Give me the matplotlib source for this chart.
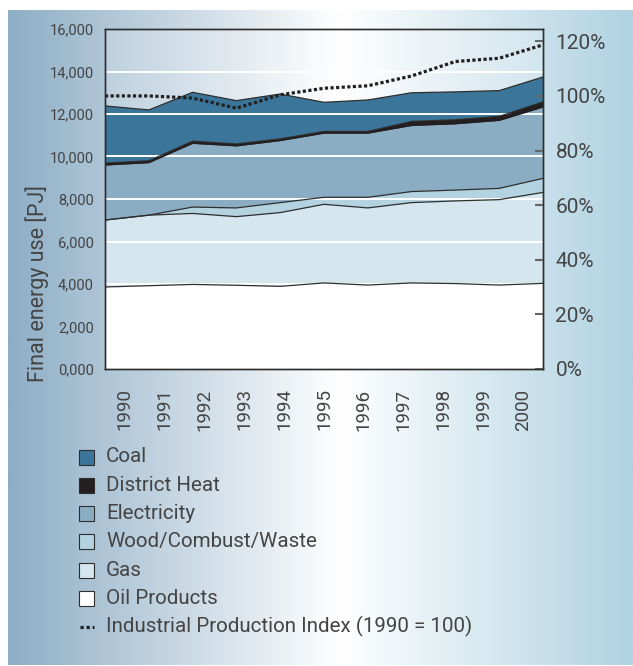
import numpy as np
import matplotlib
matplotlib.use("Agg")
import matplotlib.pyplot as plt
from matplotlib.colors import LinearSegmentedColormap
from matplotlib.patches import Rectangle
from matplotlib.lines import Line2D

# data (PJ)
years = [1990, 1991, 1992, 1993, 1994, 1995, 1996, 1997, 1998, 1999, 2000]
oil = [3860, 3920, 3980, 3940, 3890, 4050, 3950, 4050, 4020, 3950, 4030]
gas = [3150, 3320, 3340, 3230, 3470, 3700, 3630, 3780, 3890, 4020, 4280]
wood = [0, 0, 300, 410, 470, 330, 500, 520, 510, 530, 660]
electricity = [2590, 2470, 3000, 2920, 2920, 3020, 3020, 3110, 3120, 3200, 3360]
district_heat = [90, 90, 100, 90, 80, 80, 80, 190, 190, 190, 240]
coal = [2690, 2390, 2300, 2040, 2110, 1370, 1480, 1350, 1310, 1210, 1170]
ipi = [100, 100, 99.2, 95.5, 100.4, 102.8, 103.7, 107.3, 112.6, 113.8, 118.7]

labels = ["Coal", "District Heat", "Electricity", "Wood/Combust/Waste", "Gas", "Oil Products"]
colors = ["#3b7599", "#231f20", "#8badc4", "#b3d3e1", "#d6e6ee", "#ffffff"]
ipi_label = "Industrial Production Index (1990 = 100)"

left_ticks = [0, 2000, 4000, 6000, 8000, 10000, 12000, 14000, 16000]
left_ticklabels = ["0,000", "2,000", "4,000", "6,000", "8,000", "10,000", "12,000", "14,000", "16,000"]
right_ticks = [0, 20, 40, 60, 80, 100, 120]

text_color = "#444444"
edge_color = "#2e2e2e"
plt.rcParams['font.family'] = ['Roboto', 'DejaVu Sans']

fig = plt.figure(figsize=(6.33, 6.66), dpi=100)

# gradient background panel
bg = fig.add_axes([8 / 633, 1 / 666, 625 / 633, 655 / 666])
cmap = LinearSegmentedColormap.from_list(
    "bg", [(0.0, "#8eaec6"), (0.53, "#ffffff"), (1.0, "#b0d2e2")])
bg.imshow(np.linspace(0, 1, 512)[None, :], aspect="auto", cmap=cmap,
          extent=[0, 1, 0, 1])
bg.set_axis_off()

ax = fig.add_axes([105 / 633, 1 - 369 / 666, 438 / 633, 340 / 666])
ax.set_facecolor((1, 1, 1, 0.2))

layers = [oil, gas, wood, electricity, district_heat, coal]
layer_colors = colors[::-1]
ax.stackplot(years, *layers, colors=layer_colors, linewidth=0, zorder=1)

# white gridlines over the fills
for t in left_ticks[1:-1]:
    ax.axhline(t, color="white", lw=1.4, zorder=2)

# boundary lines
cum = np.cumsum(np.array(layers), axis=0)
for row in cum:
    ax.plot(years, row, color=edge_color, lw=0.9, zorder=3)
# district heat band drawn again above the gridlines
ax.fill_between(years, cum[3], cum[4], color=colors[1], lw=0, zorder=3)

ax.set_xlim(1990, 2000)
ax.set_ylim(0, 16000)
ax.set_yticks(left_ticks)
ax.set_yticklabels(left_ticklabels)
ax.tick_params(axis="y", length=0, pad=8, labelsize=10.5, labelcolor=text_color)

# year labels sit at category centres
step = (years[-1] - years[0]) / len(years)
ax.set_xticks([years[0] + (i + 0.5) * step for i in range(len(years))])
ax.set_xticklabels([str(y) for y in years], rotation=90)
ax.tick_params(axis="x", length=0, pad=14, labelsize=13.5, labelcolor=text_color)

for s in ax.spines.values():
    s.set_color(edge_color)
    s.set_linewidth(1.0)

ax2 = ax.twinx()
ax2.plot(years, ipi, color="#231f20", lw=2.3, linestyle=(0, (1, 0.75)),
         dash_capstyle="butt")
ax2.set_ylim(0, 124.5)
ax2.set_yticks(right_ticks)
ax2.set_yticklabels([f"{t}%" for t in right_ticks])
ax2.tick_params(axis="y", direction="in", length=6, width=1.5, color="#666666",
                pad=9, labelsize=15, labelcolor=text_color)
for s in ax2.spines.values():
    s.set_color(edge_color)
    s.set_linewidth(1.0)

fig.text(37 / 633, 1 - 284 / 666, "Final energy use [PJ]", rotation=90,
         ha="center", va="center", fontsize=15.5, color=text_color)

# legend
row0, row_step = 457, 28.3
for i, (lab, c) in enumerate(zip(labels, colors)):
    yc = row0 + i * row_step
    fig.add_artist(Rectangle((79 / 633, 1 - (yc + 7.5) / 666), 15 / 633, 15 / 666,
                             transform=fig.transFigure, facecolor=c,
                             edgecolor=edge_color, lw=0.8))
    fig.text(106 / 633, 1 - yc / 666, lab, ha="left", va="center",
             fontsize=14.8, color=text_color)
yc = row0 + 6 * row_step
fig.add_artist(Line2D([80 / 633, 94 / 633], [1 - yc / 666] * 2,
                      transform=fig.transFigure, color="#231f20", lw=2.3,
                      linestyle=(0, (1, 0.9)), dash_capstyle="butt"))
fig.text(106 / 633, 1 - yc / 666, ipi_label, ha="left", va="center",
         fontsize=14.8, color=text_color)

fig.savefig("out.png", dpi=100)
